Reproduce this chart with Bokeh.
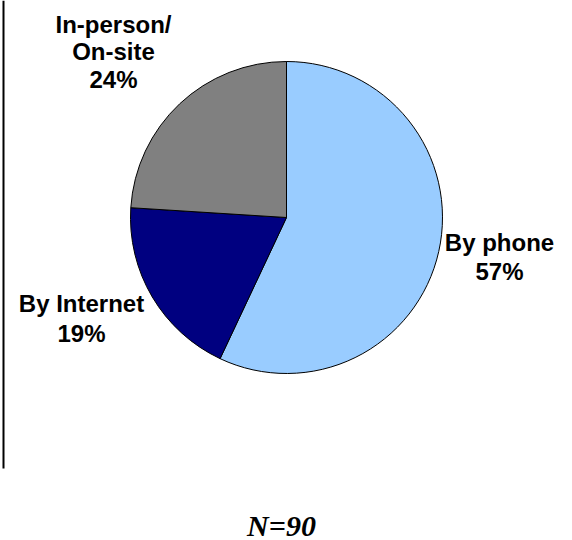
import numpy as np
from bokeh.plotting import figure
from bokeh.models import ColumnDataSource
from bokeh.core.properties import value
from bokeh.embed import file_html
from bokeh.resources import INLINE

# Survey: how respondents were contacted
categories = ["By phone", "By Internet", "In-person/\nOn-site"]
shares = [57, 19, 24]
colors = ["#99CCFF", "#000080", "#808080"]
sample_note = "N=90"

W, H = 572, 540
cx, cy, r = 286, H - 217, 156

# slices run clockwise from 12 o'clock
frac = np.array(shares, dtype=float) / sum(shares)
ends = np.cumsum(frac)
starts = ends - frac
start_ang = np.pi / 2 - ends * 2 * np.pi
end_ang = np.pi / 2 - starts * 2 * np.pi

src = ColumnDataSource(dict(start=start_ang, end=end_ang, color=colors))

p = figure(width=W, height=H, x_range=(0, W), y_range=(0, H),
           output_backend="svg", toolbar_location=None, min_border=0)
p.axis.visible = False
p.grid.visible = False
p.outline_line_color = None
p.background_fill_color = "white"

p.wedge(x=cx, y=cy, radius=r, start_angle="start", end_angle="end",
        fill_color="color", line_color="black", line_width=1, source=src)

# frame edge on the left
p.line(x=[3, 3], y=[H, H - 468], line_color="black", line_width=2)

# slice labels: (center x, first line top, line step) per slice
label_pos = [(499, 228, 29), (81, 289, 30), (113, 10, 27.5)]
lx, ly, lt = [], [], []
for name, pct, (x0, y0, step) in zip(categories, shares, label_pos):
    lines = name.split("\n") + [f"{pct}%"]
    for i, t in enumerate(lines):
        lx.append(x0)
        ly.append(H - (y0 + i * step))
        lt.append(t)
p.text(x=lx, y=ly, text=lt, text_font=value("Liberation Sans"),
       text_font_style="bold", text_font_size="24px", text_color="black",
       text_align="center", text_baseline="top")

p.text(x=[281], y=[H - 508], text=[sample_note],
       text_font=value("Liberation Serif"), text_font_style="bold italic",
       text_font_size="30px", text_color="black",
       text_align="center", text_baseline="top")

open("out.html", "w").write(file_html(p, INLINE))
